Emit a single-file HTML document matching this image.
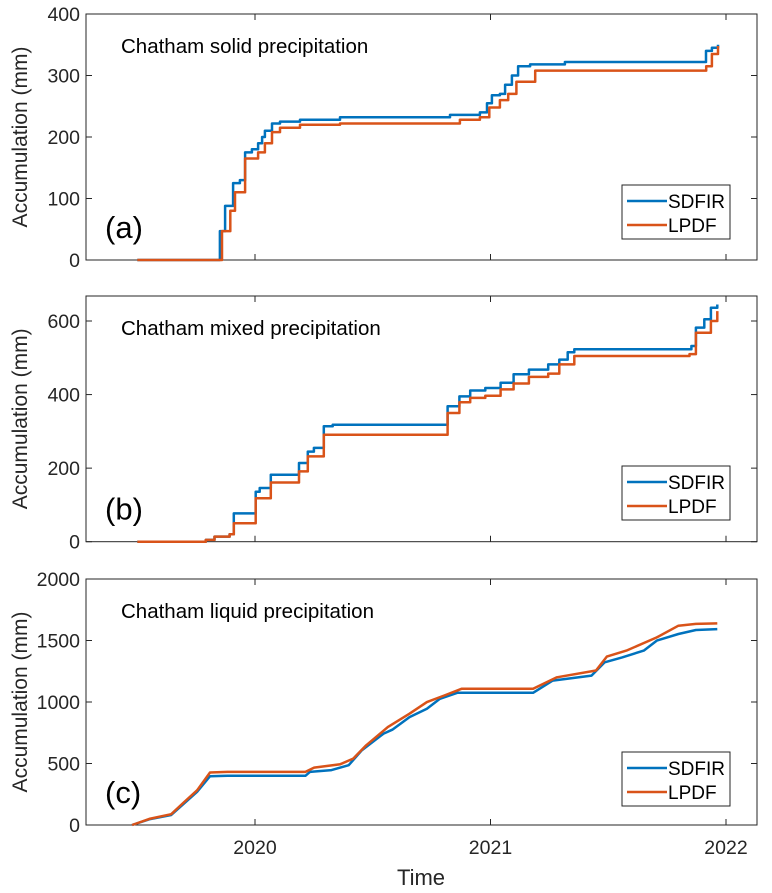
<!DOCTYPE html>
<html><head><meta charset="utf-8">
<style>
body{margin:0;background:#fff;}
svg{display:block;font-family:"Liberation Sans",Arial,sans-serif;}
</style></head>
<body>
<svg id="chart" width="772" height="893"></svg>
<script>
// Panel (a) solid precipitation
const tA_sdfir=[2019.5,2019.851,2019.873,2019.907,2019.936,2019.958,2019.987,2020.013,2020.030,2020.042,2020.072,2020.106,2020.191,2020.361,2020.828,2020.955,2020.985,2021.006,2021.040,2021.062,2021.091,2021.117,2021.168,2021.316,2021.915,2021.94,2021.966];
const vA_sdfir=[0,47,88,125,130,175,180,190,200,210,222,225,228,232,236,240,255,268,270,285,300,315,318,322,340,345,350];
const tA_lpdf=[2019.5,2019.86,2019.895,2019.915,2019.958,2020.013,2020.042,2020.072,2020.106,2020.191,2020.361,2020.870,2020.955,2020.995,2021.040,2021.075,2021.110,2021.190,2021.916,2021.94,2021.966];
const vA_lpdf=[0,47,80,110,165,175,190,208,215,220,222,228,232,248,260,270,290,308,315,335,348];
// Panel (b) mixed precipitation
const tB_sdfir=[2019.5,2019.791,2019.828,2019.892,2019.910,2020.003,2020.020,2020.067,2020.187,2020.224,2020.250,2020.292,2020.330,2020.818,2020.868,2020.914,2020.978,2021.043,2021.098,2021.163,2021.245,2021.292,2021.328,2021.356,2021.853,2021.872,2021.908,2021.936,2021.963];
const vB_sdfir=[0,5,14,20,77,136,146,182,214,245,255,314,318,368,395,411,418,432,455,468,482,495,515,523,532,582,605,636,645];
const tB_lpdf=[2019.5,2019.791,2019.828,2019.892,2019.910,2020.003,2020.067,2020.187,2020.224,2020.292,2020.818,2020.868,2020.914,2020.978,2021.043,2021.098,2021.163,2021.245,2021.292,2021.356,2021.845,2021.872,2021.936,2021.963];
const vB_lpdf=[0,5,14,20,50,118,161,191,232,291,350,379,391,397,414,430,448,457,482,505,510,568,600,627];
// Panel (c) liquid precipitation
const tC_sdfir=[2019.478,2019.551,2019.644,2019.699,2019.754,2019.809,2019.883,2020.214,2020.233,2020.325,2020.398,2020.454,2020.546,2020.583,2020.656,2020.730,2020.785,2020.859,2021.181,2021.264,2021.429,2021.485,2021.559,2021.651,2021.706,2021.798,2021.872,2021.963];
const vC_sdfir=[0,46,81,176,270,397,400,400,432,446,486,608,743,775,877,945,1026,1075,1075,1174,1215,1323,1363,1418,1499,1553,1585,1593];
const tC_lpdf=[2019.478,2019.551,2019.644,2019.699,2019.754,2019.809,2019.883,2020.214,2020.251,2020.362,2020.417,2020.472,2020.564,2020.656,2020.730,2020.804,2020.877,2021.181,2021.282,2021.448,2021.494,2021.577,2021.706,2021.798,2021.872,2021.963];
const vC_lpdf=[0,50,88,186,282,427,432,432,467,494,540,648,796,905,999,1053,1107,1107,1201,1256,1369,1418,1525,1620,1635,1639];
const xTicks=[2020,2021,2022];
const yTicksA=[0,100,200,300,400];
const yTicksB=[0,200,400,600];
const yTicksC=[0,500,1000,1500,2000];
const titles=["Chatham solid precipitation","Chatham mixed precipitation","Chatham liquid precipitation"];
const panelLetters=["(a)","(b)","(c)"];

const NS="http://www.w3.org/2000/svg";
const svg=document.getElementById('chart');
const X0=86,X1=757;
function xs(t){return 255+(t-2020)*235.5;}
function mk(tag,attrs,parent){const e=document.createElementNS(NS,tag);for(const k in attrs)e.setAttribute(k,attrs[k]);(parent||svg).appendChild(e);return e;}

const panels=[
 {top:14,bot:260,ymax:400,ticks:yTicksA,series:[[tA_sdfir,vA_sdfir],[tA_lpdf,vA_lpdf]],step:true,leg:[622,185],name:'solid'},
 {top:296,bot:541.7,ymax:668,ticks:yTicksB,series:[[tB_sdfir,vB_sdfir],[tB_lpdf,vB_lpdf]],step:true,leg:[622,466],name:'mixed'},
 {top:579,bot:825,ymax:2000,ticks:yTicksC,series:[[tC_sdfir,vC_sdfir],[tC_lpdf,vC_lpdf]],step:false,leg:[622,752],name:'liquid'}
];
const colors=['#0072BD','#D95319'];
const names=['SDFIR','LPDF'];
panels.forEach((p,i)=>{
 const g=mk('g',{});
 
 
 const ys=v=>p.bot-(v/p.ymax)*(p.bot-p.top);
 const fr=mk('rect',{x:X0,y:p.top,width:X1-X0,height:p.bot-p.top,fill:'#fff',stroke:'#262626','stroke-width':1},g);
 
 
 p.ticks.forEach(v=>{
  const y=ys(v);
  mk('line',{x1:X0,x2:X0+6,y1:y,y2:y,stroke:'#262626'},g);
  mk('line',{x1:X1,x2:X1-6,y1:y,y2:y,stroke:'#262626'},g);
  const t=mk('text',{x:X0-6,y:y+7,'text-anchor':'end','font-size':19.5,fill:'#262626'},g);
  t.textContent=v;
  
  
 });
 xTicks.forEach(tv=>{
  const x=xs(tv);
  mk('line',{x1:x,x2:x,y1:p.bot,y2:p.bot-6,stroke:'#262626'},g);
  mk('line',{x1:x,x2:x,y1:p.top,y2:p.top+6,stroke:'#262626'},g);
  if(i===2){
   const t=mk('text',{x:x,y:p.bot+29,'text-anchor':'middle','font-size':19.5,fill:'#262626'},g);
   t.textContent=tv;
   
   
  }
 });
 const yl=mk('text',{x:0,y:0,'text-anchor':'middle','font-size':21,fill:'#262626',transform:`translate(27,${(p.top+p.bot)/2}) rotate(-90)`},g);
 yl.textContent='Accumulation (mm)';
 
 
 const tt=mk('text',{x:121,y:p.top+39,'font-size':20.5,fill:'#000'},g);
 tt.textContent=titles[i];
 
 
 const pl=mk('text',{x:105,y:p.bot-22,'font-size':31,fill:'#000'},g);
 pl.textContent=panelLetters[i];
 
 
 p.series.forEach((s,k)=>{
  const [T,V]=s;let d='';
  for(let j=0;j<T.length;j++){
   const x=xs(T[j]).toFixed(1),y=ys(V[j]).toFixed(1);
   if(j===0)d+=`M${x},${y}`;
   else if(p.step)d+=`H${x}V${y}`;
   else d+=`L${x},${y}`;
  }
  const path=mk('path',{d:d,fill:'none',stroke:colors[k],'stroke-width':2.5,'stroke-linejoin':'round'},g);
  
  
 });
 const [lx,ly]=p.leg;
 const lg=mk('g',{},g);
 
 
 mk('rect',{x:lx,y:ly,width:108,height:54,fill:'#fff',stroke:'#262626','stroke-width':1},lg);
 names.forEach((n,k)=>{
  const y=ly+16+k*24;
  mk('line',{x1:lx+5,x2:lx+45,y1:y,y2:y,stroke:colors[k],'stroke-width':2.5},lg);
  const t=mk('text',{x:lx+46,y:y+7,'font-size':19,fill:'#000'},lg);
  t.textContent=n;
  
  
 });
});
const xl=mk('text',{x:421,y:885,'text-anchor':'middle','font-size':22,fill:'#262626'});
xl.textContent='Time';


</script>
</body></html>
